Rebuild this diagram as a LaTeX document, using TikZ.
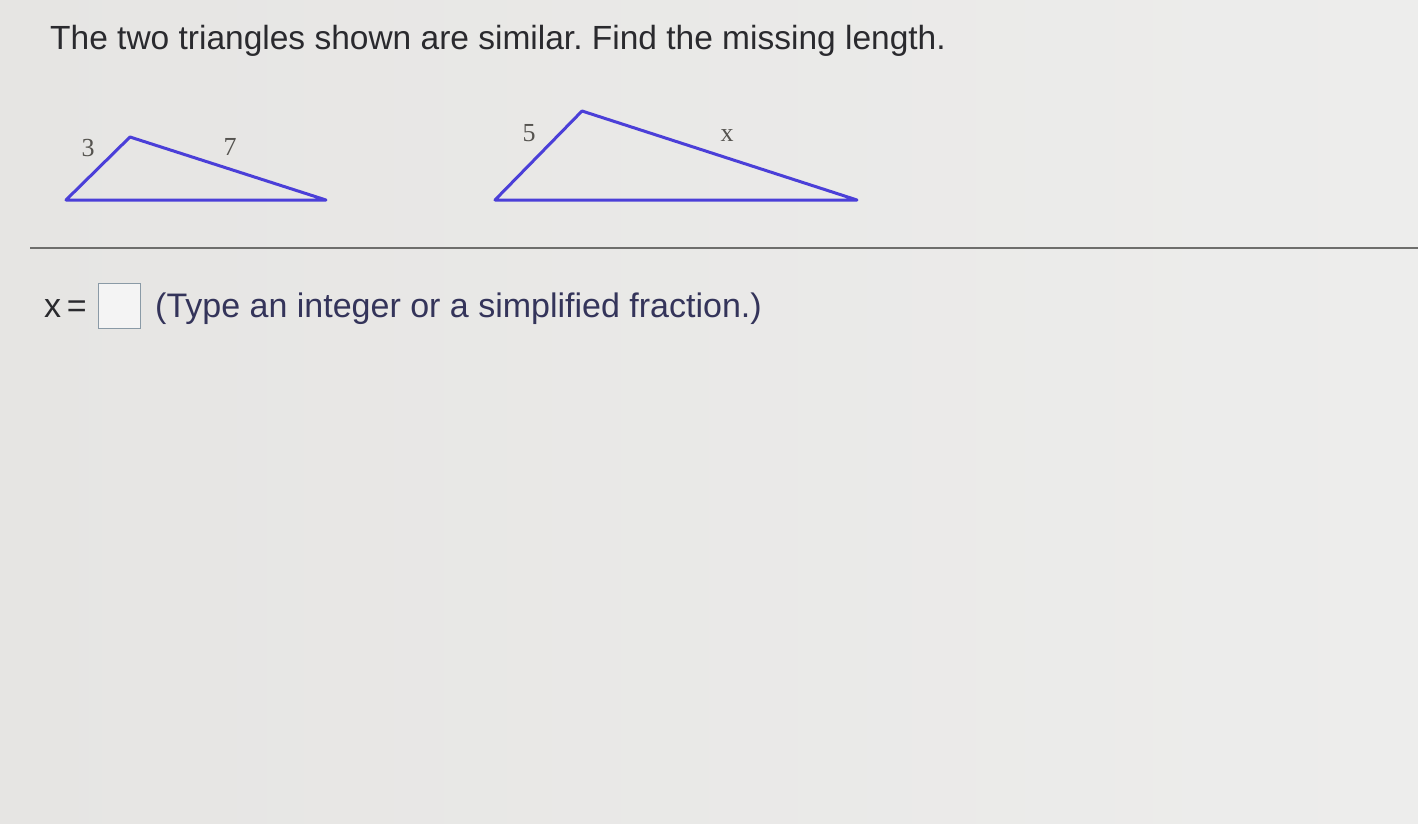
\documentclass[tikz,border=0pt]{standalone}
\usepackage{fontspec}
\setmainfont{Liberation Sans}
\newfontfamily\serifl{Liberation Serif}
\definecolor{bgc}{HTML}{E6E5E3}
\definecolor{bgl}{HTML}{EDEDEC}
\definecolor{tri}{HTML}{4B3FD8}
\definecolor{txt}{HTML}{2A2A2E}
\definecolor{ans}{HTML}{34345A}
\definecolor{lbl}{HTML}{55534F}
\definecolor{rule}{HTML}{6E6E6C}
\definecolor{boxc}{HTML}{8A9AA6}
\tikzset{
  triline/.style={draw=tri, line width=3pt, line join=round},
  vlabel/.style={font=\serifl\fontsize{26}{30}\selectfont, text=lbl, inner sep=0pt},
  bigtext/.style={font=\frenchspacing\fontsize{34}{40}\selectfont, inner sep=0pt},
  titletext/.style={font=\frenchspacing\fontsize{33.5}{40}\selectfont, inner sep=0pt},
}
\begin{document}
\begin{tikzpicture}[x=1pt,y=-1pt]
\useasboundingbox (0,0) rectangle (1418,824);
\shade[left color=bgc, right color=bgl] (0,0) rectangle (1418,824);
% title
\node[titletext, text=txt, anchor=base west] (title) at (50,50) {The two triangles shown are similar. Find the missing length.};
% triangle 1
\coordinate (a1) at (66,200);
\coordinate (b1) at (130,137);
\coordinate (c1) at (326,200);
\draw[triline] (a1) -- (b1) -- (c1) -- cycle;
\node[vlabel] (l3) at (88,148) {3};
\node[vlabel] (l7) at (230,147) {7};
% triangle 2
\coordinate (a2) at (495,200);
\coordinate (b2) at (582,111);
\coordinate (c2) at (857,200);
\draw[triline] (a2) -- (b2) -- (c2) -- cycle;
\node[vlabel] (l5) at (529,133) {5};
\node[vlabel] (lx) at (727,136) {x};
% rule
\coordinate (r1) at (30,248);
\coordinate (r2) at (1418,248);
\draw[draw=rule, line width=1.5pt] (r1) -- (r2);
% answer
\node[bigtext, text=txt, anchor=base west] (xeq) at (44,317) {x\,=};
\node[draw=boxc, line width=1.2pt, fill=bgl!60!white, minimum width=42pt, minimum height=45pt, inner sep=0pt, anchor=north west] (box) at (98,283) {};
\node[bigtext, text=ans, anchor=base west] (hint) at (155,317) {(Type an integer or a simplified fraction.)};
\end{tikzpicture}
\end{document}
